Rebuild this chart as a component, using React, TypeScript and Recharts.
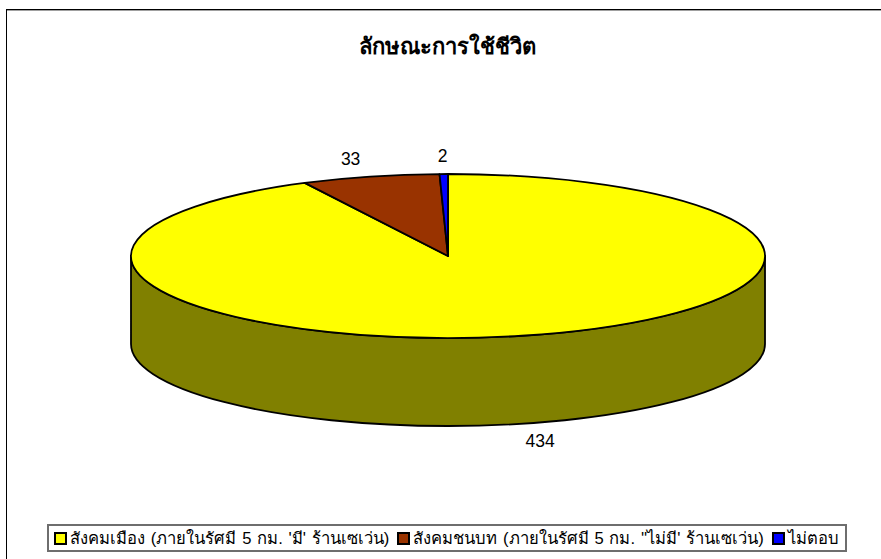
import React from 'react';
import { PieChart, Pie, Legend } from 'recharts';

const categories = [
  "สังคมเมือง (ภายในรัศมี 5 กม. 'มี' ร้านเซเว่น)",
  "สังคมชนบท (ภายในรัศมี 5 กม. ''ไม่มี' ร้านเซเว่น)",
  'ไม่ตอบ',
];
const values = [434, 33, 2];
const colors = ['#FFFF00', '#993300', '#0000FF'];
const sideColors = ['#808000', '#4d1a00', '#000080'];
const title = 'ลักษณะการใช้ชีวิต';

const FONT = '"Liberation Sans", Arial, sans-serif';
const CX = 448;
const CY = 256;
const RX = 317;
const RY = 82;
const DEPTH = 88;
const rad = (a: number) => (a * Math.PI) / 180;

const data = categories.map((name, i) => ({ name, value: values[i], fill: colors[i] }));
const sideData = categories.map((name, i) => ({ name, value: values[i], fill: sideColors[i] }));

// top face of the slice, squashed into an ellipse
const TopSlice = (props: any) => {
  const { cx, cy, startAngle, endAngle, fill } = props;
  const x0 = cx + RX * Math.cos(rad(startAngle));
  const y0 = cy - RY * Math.sin(rad(startAngle));
  const x1 = cx + RX * Math.cos(rad(endAngle));
  const y1 = cy - RY * Math.sin(rad(endAngle));
  const large = Math.abs(startAngle - endAngle) > 180 ? 1 : 0;
  const d = `M${cx},${cy} L${x0},${y0} A${RX},${RY} 0 ${large} 1 ${x1},${y1} Z`;
  return <path d={d} fill={fill} stroke="#000" strokeWidth={1.8} strokeLinejoin="round" />;
};

// wall under the slice, only the part that faces the viewer (-180..0 deg)
const SideSlice = (props: any) => {
  const { cx, cy, startAngle, endAngle, fill } = props;
  const from = Math.min(startAngle, 0);
  const to = Math.max(endAngle, -180);
  if (from <= to) return null;
  const x0 = cx + RX * Math.cos(rad(from));
  const y0 = cy - RY * Math.sin(rad(from));
  const x1 = cx + RX * Math.cos(rad(to));
  const y1 = cy - RY * Math.sin(rad(to));
  const d = `M${x0},${y0} A${RX},${RY} 0 0 1 ${x1},${y1} L${x1},${y1 + DEPTH} A${RX},${RY} 0 0 0 ${x0},${y0 + DEPTH} Z`;
  return <path d={d} fill={fill} stroke="#000" strokeWidth={1.8} strokeLinejoin="round" />;
};

const renderLabel = (props: any) => {
  const { cx, cy, midAngle, value } = props;
  const s = Math.sin(rad(midAngle));
  const x = cx + (RX + 80) * Math.cos(rad(midAngle));
  const y = cy - (RY + 18) * s + (s < 0 ? DEPTH : 0);
  return (
    <text x={x} y={y} textAnchor="middle" dominantBaseline="central" fontFamily={FONT} fontSize={17.5} fill="#000">
      {value}
    </text>
  );
};

const renderLegend = (props: any) => {
  // the wall pie also ends up in the payload, keep the top face entries only
  const items = (props.payload || []).filter((p: any) => colors.includes(p.color));
  return (
    <div
      style={{
        display: 'flex',
        alignItems: 'center',
        boxSizing: 'border-box',
        height: 28,
        width: 800,
        padding: '0 0 0 5px',
        background: '#fff',
        border: '2px solid #6e6e6e',
        fontFamily: FONT,
        fontSize: 16.6,
        wordSpacing: 1.2,
        color: '#000',
        whiteSpace: 'nowrap',
      }}
    >
      {items.map((p: any) => (
        <span key={p.value} style={{ display: 'flex', alignItems: 'center', marginRight: 8 }}>
          <span
            style={{
              display: 'inline-block',
              boxSizing: 'border-box',
              width: 13,
              height: 13,
              marginRight: 3,
              background: p.color,
              border: '2px solid #000',
            }}
          />
          {p.value}
        </span>
      ))}
    </div>
  );
};

export default function App() {
  return (
    <div style={{ position: 'absolute', left: 0, top: 0, width: 881, height: 559, overflow: 'hidden', background: '#fff' }}>
      <div style={{ position: 'absolute', left: 6, top: 9, width: 875, height: 550, boxSizing: 'border-box', borderTop: '1px solid #000', borderLeft: '1px solid #000' }} />
      <div style={{ position: 'absolute', left: 7, top: 10, width: 874, height: 1, background: '#a0a0a0' }} />
      <div style={{ position: 'absolute', left: 0, top: 29, width: 894, textAlign: 'center', fontFamily: FONT, fontWeight: 700, fontSize: 22, color: '#000' }}>
        {title}
      </div>
      <PieChart width={881} height={559} margin={{ top: 0, right: 0, bottom: 0, left: 0 }} style={{ position: 'absolute', left: 0, top: 0 }}>
        <Pie
          data={sideData}
          dataKey="value"
          nameKey="name"
          cx={CX}
          cy={CY}
          outerRadius={RX}
          startAngle={90}
          endAngle={-270}
          legendType="none"
          shape={SideSlice}
          isAnimationActive={false}
        />
        <Pie
          data={data}
          dataKey="value"
          nameKey="name"
          cx={CX}
          cy={CY}
          outerRadius={RX}
          startAngle={90}
          endAngle={-270}
          shape={TopSlice}
          label={renderLabel}
          labelLine={false}
          isAnimationActive={false}
        />
        <Legend content={renderLegend} itemSorter={null} wrapperStyle={{ position: 'absolute', left: 47, top: 524, width: 800, bottom: 'auto' }} />
      </PieChart>
    </div>
  );
}
